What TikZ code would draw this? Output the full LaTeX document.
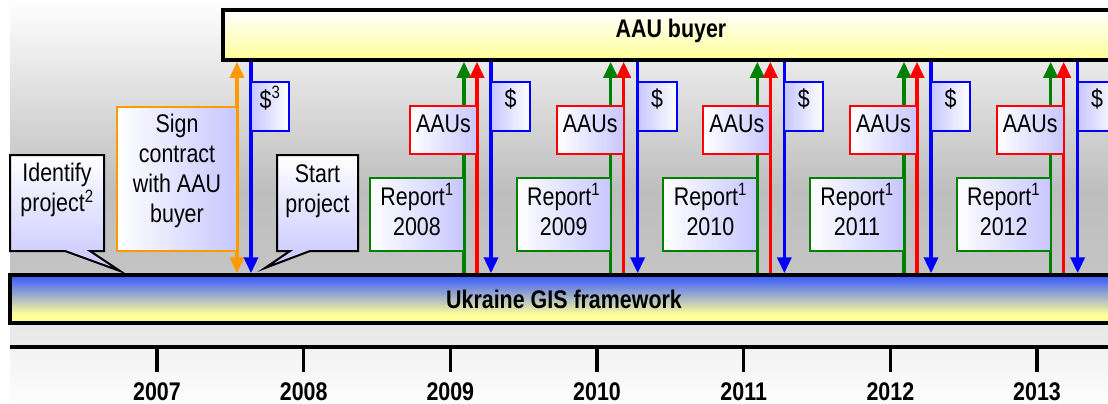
\documentclass[tikz,border=0pt]{standalone}
\usepackage{fontspec}
\setmainfont{Liberation Sans}
\usepackage{graphicx}
\usetikzlibrary{arrows.meta}
\definecolor{lav}{RGB}{198,198,255}
\definecolor{ylw}{RGB}{255,255,153}
\definecolor{gisblue}{RGB}{51,85,255}
\definecolor{dgreen}{RGB}{0,128,0}
\definecolor{orng}{RGB}{255,153,0}
\definecolor{bgg}{RGB}{190,190,190}
\definecolor{bgg2}{RGB}{196,196,196}
\definecolor{bga}{RGB}{228,228,228}
\definecolor{bga2}{RGB}{234,234,234}
\definecolor{bgb}{RGB}{242,242,242}
\definecolor{bgb2}{RGB}{253,253,253}
\pgfdeclareverticalshading{gisshade}{100bp}{color(0bp)=(ylw); color(25bp)=(ylw); color(34bp)=(ylw); color(75bp)=(gisblue); color(100bp)=(gisblue)}
\newcommand{\sq}[1]{\scalebox{0.84}[1]{\begin{tabular}[t]{@{}c@{}}#1\end{tabular}}}
\begin{document}
\begin{tikzpicture}[x=1pt,y=-1pt,
  >={Triangle[width=14pt,length=16pt]},
  txt/.style={font=\fontsize{25.5}{30}\selectfont, inner sep=0pt, anchor=base},
  btxt/.style={font=\fontsize{25.5}{30}\selectfont\bfseries, inner sep=0pt, anchor=base},
  bigbox/.style={draw=black, line width=3.5pt, inner sep=0pt},
  ga/.style={draw=dgreen, line width=3.6pt, ->},
  ra/.style={draw=red, line width=3.6pt, ->},
  ba/.style={draw=blue, line width=3.6pt, ->},
  oa/.style={draw=orng, line width=3.6pt, <->},
  rbox/.style={draw=red, line width=2pt, left color=white, right color=lav, inner sep=0pt, outer sep=0pt},
  gbox/.style={draw=dgreen, line width=2pt, left color=white, right color=lav, inner sep=0pt, outer sep=0pt},
  dbox/.style={draw=blue, line width=2pt, left color=lav, right color=white, inner sep=0pt, outer sep=0pt},
  obox/.style={draw=orng, line width=2pt, left color=white, right color=lav, inner sep=0pt, outer sep=0pt},
  callout/.style={draw=black, line width=2pt, top color=white, bottom color=lav, line join=miter},
  axisline/.style={draw=black, line width=3.5pt}
]
\useasboundingbox (0,0) rectangle (1108,404);
\clip (0,0) rectangle (1108,404);
\fill[white] (0,0) rectangle (1108,404);
% background
\shade[top color=white, bottom color=bgg] (10,-1) rectangle (1108,190);
\shade[top color=bgg, bottom color=bgg2] (10,190) rectangle (1108,276);
\shade[top color=bga, bottom color=bga2] (10,276) rectangle (1108,347);
\shade[top color=bgb, bottom color=bgb2] (10,347) rectangle (1108,405);

% main bars
\node[bigbox, top color=white, bottom color=ylw, minimum width=897pt, minimum height=50pt] (buyer) at (671.5,35) {};
\node[btxt] (buyerlbl) at (671,38) {\sq{AAU buyer}};
\node[bigbox, shade, shading=gisshade, minimum width=1110pt, minimum height=48pt] (gis) at (565,299) {};
\node[btxt] (gislbl) at (564,308) {\sq{Ukraine GIS framework}};

% contract arrows
\coordinate (o) at (237,0);
\coordinate (bc) at (251,0);
\draw[oa] (gis.north -| o) -- (buyer.south -| o);
\draw[ba] (buyer.south -| bc) -- (gis.north -| bc);

% yearly groups
\foreach \k/\yr in {0/2008,1/2009,2/2010,3/2011,4/2012}{
  \pgfmathsetmacro{\gx}{464+146.67*\k}
  \coordinate (g\k) at (\gx,0);
  \coordinate (r\k) at (\gx+13,0);
  \coordinate (b\k) at (\gx+27,0);
  \draw[ga] (gis.north -| g\k) -- (buyer.south -| g\k);
  \draw[ra] (gis.north -| r\k) -- (buyer.south -| r\k);
  \draw[ba] (buyer.south -| b\k) -- (gis.north -| b\k);
  \node[gbox, minimum width=94pt, minimum height=73pt] (rep\k) at (\gx-47,214.5) {};
  \node[txt] (replbl\k) at (\gx-47,205) {\sq{Report\textsuperscript{1}\\\yr}};
  \node[rbox, minimum width=67pt, minimum height=48pt] (aau\k) at (\gx-20.5,130) {};
  \node[txt] (aaulbl\k) at (\gx-20.5,132) {\sq{AAUs}};
  \node[dbox, minimum width=39pt, minimum height=49pt] (pay\k) at (\gx+46.5,106.5) {};
  \node[txt] (paylbl\k) at (\gx+46.5,107) {\sq{\$}};
}

% contract boxes
\node[obox, minimum width=120pt, minimum height=144pt] (sign) at (177,179) {};
\node[txt] (signlbl) at (177,132) {\sq{Sign\\contract\\with AAU\\buyer}};
\node[dbox, minimum width=38pt, minimum height=49pt] (pay) at (270,106.5) {};
\node[txt] (paylbl) at (270,108) {\sq{\$\textsuperscript{3}}};

% callouts
\draw[callout] (10,155) -- (104,155) -- (104,251) -- (90,251) -- (120,271) -- (65,251) -- (10,251) -- cycle;
\node[txt] (identify) at (57,181) {\sq{Identify\\project\textsuperscript{2}}};
\draw[callout] (277,155) -- (358,155) -- (358,251) -- (310,251) -- (265,268) -- (290,251) -- (277,251) -- cycle;
\node[txt] (start) at (317.5,182) {\sq{Start\\project}};

% time axis
\coordinate (axL) at (10,347);
\coordinate (axR) at (1110,347);
\draw[axisline] (axL) -- (axR);
\foreach \i/\yr in {0/2007,1/2008,2/2009,3/2010,4/2011,5/2012,6/2013}{
  \pgfmathsetmacro{\tx}{157+146.67*\i}
  \coordinate (ta\i) at (\tx,347);
  \coordinate (tb\i) at (\tx,372);
  \draw[axisline] (ta\i) -- (tb\i);
  \node[btxt] (yr\i) at (\tx,400) {\sq{\yr}};
}
\end{tikzpicture}
\end{document}
